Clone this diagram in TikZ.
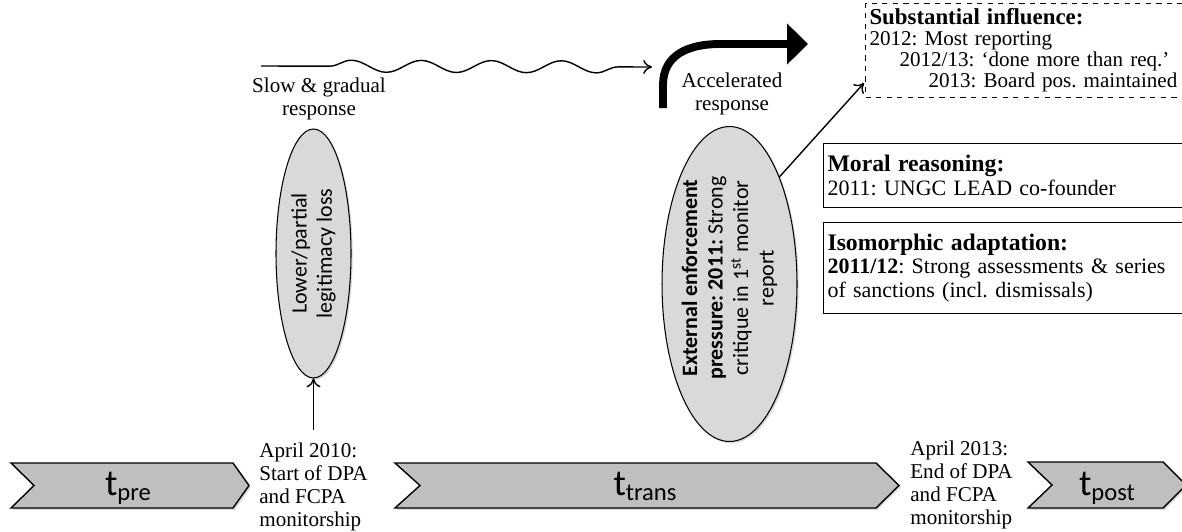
\documentclass[tikz,border=0pt]{standalone}
\usepackage{fontspec}
\setmainfont{Liberation Serif}
\newfontfamily\calib{Carlito}
\usetikzlibrary{shapes.geometric, arrows.meta, decorations.pathmorphing, calc, shadows}
\definecolor{chevgray}{HTML}{BFBFBF}
\definecolor{ovalgray}{HTML}{D9D9D9}
\newcommand{\tsub}[1]{\raisebox{-0.3ex}{\fontsize{14}{14}\selectfont #1}}
\newcommand{\boxhead}[1]{{\fontsize{13.5}{15}\selectfont\bfseries #1}}
\frenchspacing

\begin{document}
\begin{tikzpicture}[x=0.02cm, y=-0.02cm,
	serif/.style={font=\fontsize{12}{13}\selectfont, inner sep=0pt},
	sans/.style={font=\calib\fontsize{12.5}{14.5}\selectfont, inner sep=0pt},
	tlabel/.style={font=\calib\fontsize{21}{21}\selectfont, inner sep=0pt, anchor=base},
	chev/.style={draw, line width=0.8pt, fill=chevgray,
		drop shadow={opacity=0.3, shadow xshift=1pt, shadow yshift=-1pt}},
	oval/.style={ellipse, draw, line width=0.6pt, fill=ovalgray, inner sep=0pt,
		drop shadow={opacity=0.3, shadow xshift=1pt, shadow yshift=-1pt}},
	infobox/.style={draw, line width=0.6pt, anchor=north west, align=left,
		font=\frenchspacing\fontsize{12.5}{13.5}\selectfont, inner xsep=0.08cm, inner ysep=0pt},
	>={To[length=5pt, width=8pt]}]
	\useasboundingbox (0,0) rectangle (1182,531);

	% time line
	\draw[chev] (11,463) -- (233,463) -- (249,485.5) -- (233,508) -- (11,508) -- (34,485.5) -- cycle;
	\draw[chev] (395,463) -- (876,463) -- (899,485.5) -- (876,508) -- (395,508) -- (420,485.5) -- cycle;
	\draw[chev] (1028,462) -- (1163,462) -- (1186,485) -- (1163,508) -- (1028,508) -- (1052,485) -- cycle;
	\node[tlabel] (tpre) at (128,495) {t\tsub{pre}};
	\node[tlabel] (ttrans) at (645,495) {t\tsub{trans}};
	\node[tlabel] (tpost) at (1107,495) {t\tsub{post}};

	\node[serif, align=left, anchor=north west] (april10) at (259,442.5) {April 2010:\\Start of DPA\\and FCPA\\monitorship};
	\node[serif, align=left, anchor=north west] (april13) at (910,440.5) {April 2013:\\End of DPA\\and FCPA\\monitorship};

	% legitimacy loss
	\node[oval, minimum width=1.5cm, minimum height=4.98cm] (lowloss) at (313.5,253.5) {};
	\node[sans, rotate=90, align=center] (lowlosstext) at (lowloss) {Lower/partial\\legitimacy loss};
	\coordinate (lossbase) at (313.5,430);
	\draw[->, line width=0.8pt] (lossbase) -- (lowloss.south);

	% slow response
	\coordinate (slowstart) at (261,66);
	\coordinate (slowend) at (652,67);
	\draw[->, line width=0.8pt, decorate, decoration={snake, amplitude=0.12cm, segment length=1.4cm, pre length=1.37cm, post length=0.3cm}] (slowstart) -- (slowend);
	\node[serif, align=center, anchor=north] (slow) at (319,77.5) {Slow \& gradual\\response};

	% enforcement pressure
	\node[oval, minimum width=2.7cm, minimum height=6.3cm] (extpress) at (729.5,284) {};
	\node[sans, rotate=90, align=center] (extpresstext) at (729.5,278) {\bfseries External enforcement\\\textbf{pressure: 2011:} Strong\\critique in 1\textsuperscript{st} monitor\\report};

	% accelerated response
	\coordinate (accstart) at (663,108);
	\coordinate (accend) at (808,44);
	\draw[line width=4.5pt, -{Triangle[length=0.42cm, width=0.8cm]}] (accstart) -- (663,85) .. controls (663,55) and (688,44) .. (720,44) -- (accend);
	\node[serif, align=center, anchor=north] (accel) at (732,72.5) {Accelerated\\response};

	% outcomes
	\node[infobox, dashed, font=\frenchspacing\fontsize{12}{12}\selectfont, text width=6.5cm, minimum height=1.88cm] (subinf) at (865,3) {{\fontsize{13}{13}\selectfont\bfseries Substantial influence:}\\2012: Most reporting\\\hspace*{0.6cm}2012/13: `done more than req.'\\\hspace*{1.18cm}2013: Board pos. maintained};
	\node[infobox, text width=7.4cm, minimum height=1.28cm] (moral) at (823,143) {\boxhead{Moral reasoning:}\\2011: UNGC LEAD co-founder};
	\node[infobox, text width=7.4cm, minimum height=1.82cm] (isomorph) at (823,222) {\boxhead{Isomorphic adaptation:}\\\textbf{2011/12}: Strong assessments \& series\\of sanctions (incl. dismissals)};
	\draw[->, line width=0.8pt] (extpress.65) -- ($(subinf.south west)+(-1,-15)$);
\end{tikzpicture}
\end{document}
